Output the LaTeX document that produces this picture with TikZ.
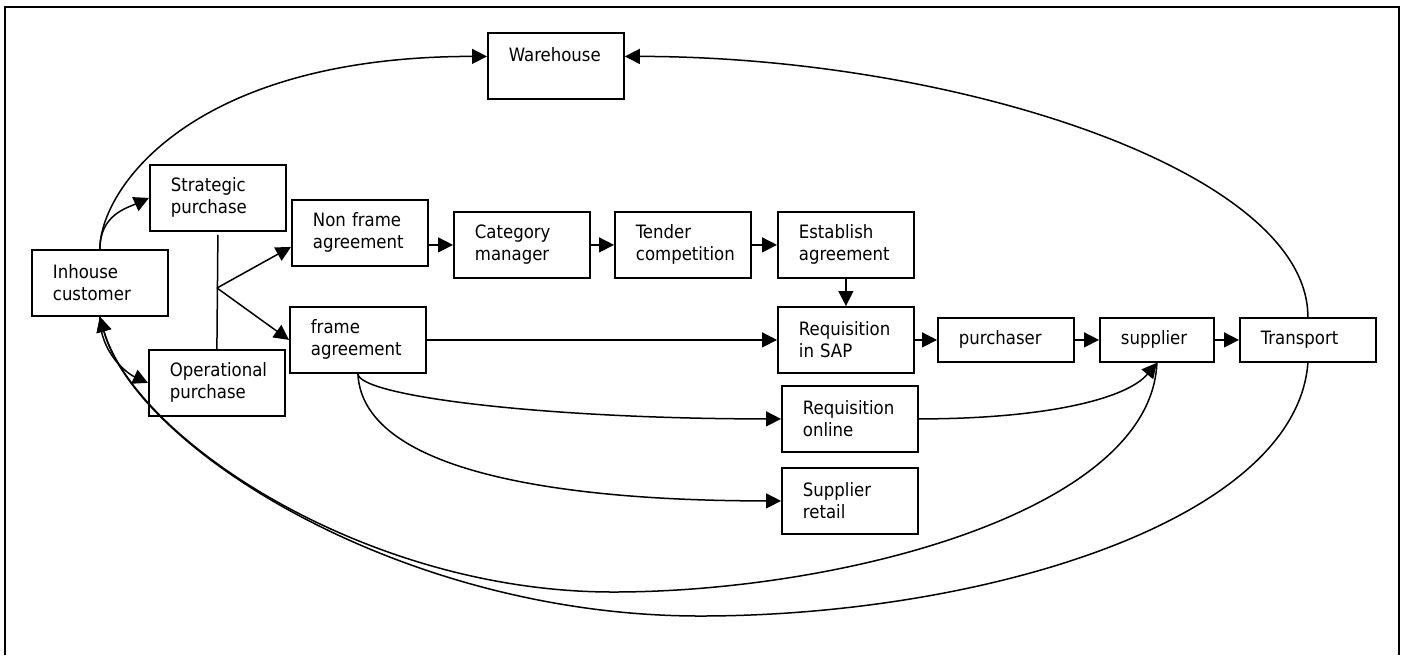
\documentclass[tikz,border=0pt]{standalone}
\usepackage{fontspec}
\setmainfont{DejaVu Sans Condensed}
\usetikzlibrary{arrows.meta}
\hyphenpenalty=10000
\exhyphenpenalty=10000
\begin{document}
\begin{tikzpicture}[x=0.5pt,y=-0.5pt,line width=0.75pt,
  font=\fontsize{9.2}{11}\selectfont,
  box/.style={draw, line width=0.9pt, anchor=north west, inner xsep=10.5pt, inner ysep=0pt,
    text width=47pt, align=left, minimum width=68pt, minimum height=33pt},
  slim/.style={box, minimum height=22pt},
  arr/.style={-{Triangle[length=7.5pt,width=7.5pt]}}]
\useasboundingbox (0,0) rectangle (1407,655);
% outer frame (open at the bottom)
\draw[line width=0.9pt] (5,655) -- (5,7) -- (1399,7) -- (1399,655);

% boxes
\node[box] (wh)    at (487,32)  {Warehouse\\\mbox{}};
\node[box] (strat) at (149,164) {Strategic\\purchase};
\node[box] (inh)   at (31,249)  {Inhouse\\customer};
\node[box] (oper)  at (148,349) {Operational\\purchase};
\node[box] (nfa)   at (291,199) {Non frame\\agreement};
\node[box] (cat)   at (453,211) {Category\\manager};
\node[box] (tend)  at (614,211) {Tender\\competition};
\node[box] (est)   at (777,211) {Establish\\agreement};
\node[box] (fa)    at (289,306) {frame\\agreement};
\node[box] (sap)   at (777,306) {Requisition\\in SAP};
\node[slim] (purch) at (937,317) {purchaser};
\node[slim, text width=36pt, minimum width=57pt] (supp) at (1099,317) {supplier};
\node[slim] (trans) at (1239,317) {Transport};
\node[box] (reqon) at (781,385) {Requisition\\online};
\node[box] (sret)  at (781,467) {Supplier\\retail};

% branch between strategic and operational purchase
\coordinate (br) at (217,288);
\draw ([yshift=-1.5pt]strat.south) -- (oper.north);
\draw[arr] (br) -- ([yshift=-7pt]nfa.west);
\draw[arr] (br) -- (fa.west);

% main chain
\draw[arr] (nfa.east |- cat.west) -- (cat.west);
\draw[arr] (cat.east) -- (tend.west);
\draw[arr] (tend.east) -- (est.west);
\draw[arr] (est.south) -- (sap.north);
\draw[arr] (fa.east) -- (sap.west);
\draw[arr] (sap.east) -- (purch.west);
\draw[arr] (purch.east) -- (supp.west);
\draw[arr] (supp.east) -- (trans.west);

% from the inhouse customer
\draw[arr] (inh.north) .. controls +(0,-34) and +(-22,10) .. (strat.west);
\draw[arr] (inh.south) .. controls +(0,35) and +(-22,-10) .. (oper.west);
\draw[arr] (inh.north) .. controls +(0,-59) and +(-297,0) .. ([yshift=4.75pt]wh.west);

% frame agreement alternatives
\draw[arr] (fa.south) .. controls +(2,23) and +(-231,0) .. (reqon.west);
\draw[arr] (fa.south) .. controls +(5,103) and +(-201,0) .. (sret.west);
\draw[arr] (reqon.east) .. controls +(123,0) and +(-31,37) .. (supp.south);

% deliveries back
\draw[arr] (trans.north) .. controls +(0,-147) and +(327,0) .. ([yshift=4.75pt]wh.east);
\draw[arr] (supp.south) .. controls +(-6,149) and +(227,0) .. (613,592)
  .. controls +(-250,0) and +(34,120) .. (inh.south);
\draw[arr] (trans.south) .. controls +(-12,159) and +(280,0) .. (700,616)
  .. controls +(-300,0) and +(36,130) .. (inh.south);
\end{tikzpicture}
\end{document}
